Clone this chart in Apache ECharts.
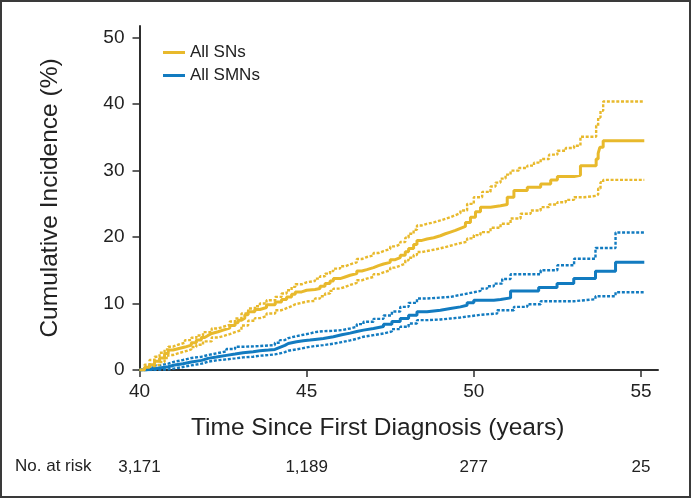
<!DOCTYPE html>
<html>
<head>
<meta charset="utf-8">
<script src="https://cdn.jsdelivr.net/npm/echarts@6/dist/echarts.min.js"></script>
<style>
html,body{margin:0;padding:0;background:#fff;}
#chart{width:692px;height:499px;}
</style>
</head>
<body>
<div id="chart"></div>
<script>
// ---- data (time in years, cumulative incidence in %) ----
const snEst = [[40,0],[40.15,0.4],[40.3,0.8],[40.45,1.3],[40.6,1.8],[40.75,2.5],[40.86,3.0],[41.0,3.2],[41.15,3.45],[41.36,3.75],[41.55,4.1],[41.7,4.5],[41.85,4.9],[41.95,5.2],[42.05,5.5],[42.16,5.75],[42.35,6.0],[42.5,6.3],[42.7,6.7],[42.86,7.1],[42.95,7.5],[43.05,7.8],[43.15,8.3],[43.25,8.75],[43.45,9.1],[43.6,9.4],[43.8,9.8],[44.06,10.25],[44.25,10.6],[44.4,11.0],[44.55,11.4],[44.66,11.75],[44.85,12.0],[45.0,12.1],[45.25,12.25],[45.4,12.6],[45.55,13.0],[45.7,13.4],[45.8,13.75],[46.0,14.0],[46.15,14.25],[46.3,14.5],[46.5,14.9],[46.65,15.1],[46.8,15.4],[47.0,15.7],[47.15,15.95],[47.3,16.2],[47.5,16.6],[47.65,16.9],[47.8,17.25],[47.95,17.8],[48.05,18.3],[48.2,18.9],[48.3,19.5],[48.45,19.7],[48.6,19.9],[48.8,20.2],[49.0,20.5],[49.15,20.75],[49.3,21.0],[49.45,21.3],[49.6,21.6],[49.75,22.2],[49.9,23.0],[50.05,23.8],[50.2,24.5],[50.5,24.7],[50.8,24.9],[51.0,26.0],[51.2,27.0],[51.6,27.5],[52.0,28.0],[52.3,28.6],[52.5,29.1],[53.0,29.3],[53.19,30.75],[53.66,31.75],[53.72,32.6],[53.77,33.5],[53.87,34.5],[55.1,34.5]];
const snHi = [[40,0],[40.15,0.8],[40.3,1.5],[40.45,2.0],[40.6,2.6],[40.75,3.1],[40.86,3.5],[41.0,3.8],[41.15,4.1],[41.36,4.5],[41.55,4.85],[41.7,5.2],[41.9,5.7],[42.16,6.25],[42.35,6.5],[42.5,6.8],[42.7,7.3],[42.86,7.75],[43.05,8.5],[43.25,9.25],[43.45,9.6],[43.6,10.0],[43.8,10.5],[44.06,11.0],[44.25,11.5],[44.4,12.0],[44.55,12.5],[44.66,12.9],[44.85,13.2],[45.0,13.4],[45.25,13.75],[45.4,14.1],[45.55,14.5],[45.7,14.9],[45.8,15.25],[46.0,15.6],[46.15,15.9],[46.3,16.2],[46.5,16.7],[46.65,17.0],[46.8,17.25],[47.0,17.6],[47.15,17.9],[47.3,18.2],[47.5,18.6],[47.65,18.9],[47.8,19.25],[47.95,19.9],[48.05,20.5],[48.2,21.1],[48.3,21.75],[48.45,22.0],[48.6,22.2],[48.8,22.5],[49.0,22.75],[49.15,23.0],[49.3,23.3],[49.45,23.6],[49.6,24.0],[49.8,25.0],[50.0,26.0],[50.25,26.8],[50.5,27.6],[50.65,28.2],[50.8,28.8],[50.95,29.4],[51.1,30.0],[51.35,30.4],[51.6,30.75],[51.8,31.2],[52.0,31.75],[52.25,32.4],[52.5,33.0],[52.75,33.4],[53.0,33.75],[53.19,35.1],[53.66,36.75],[53.72,38.0],[53.79,39.0],[53.87,40.4],[55.1,40.4]];
const snLo = [[40,0],[40.15,0.2],[40.3,0.5],[40.45,0.8],[40.6,1.2],[40.75,1.8],[40.86,2.25],[41.0,2.5],[41.15,2.8],[41.36,3.1],[41.55,3.45],[41.7,3.8],[41.9,4.3],[42.16,4.9],[42.35,5.1],[42.5,5.4],[42.7,5.7],[42.86,6.0],[43.05,6.7],[43.25,7.4],[43.45,7.8],[43.6,8.1],[43.8,8.5],[44.06,9.0],[44.25,9.3],[44.4,9.6],[44.55,9.9],[44.66,10.1],[44.85,10.3],[45.0,10.4],[45.25,10.75],[45.4,11.1],[45.55,11.5],[45.7,11.9],[45.8,12.25],[46.0,12.5],[46.15,12.8],[46.3,13.1],[46.5,13.5],[46.65,13.75],[46.8,14.0],[47.0,14.4],[47.15,14.7],[47.3,15.0],[47.5,15.4],[47.65,15.7],[47.8,16.0],[47.95,16.5],[48.05,16.9],[48.2,17.3],[48.3,17.75],[48.45,17.9],[48.6,18.1],[48.8,18.3],[49.0,18.5],[49.15,18.7],[49.3,18.9],[49.45,19.1],[49.6,19.3],[49.8,19.8],[50.0,20.3],[50.2,20.75],[50.5,21.4],[50.8,22.0],[51.1,22.8],[51.4,23.5],[51.7,24.0],[52.0,24.5],[52.25,24.9],[52.5,25.25],[52.75,25.6],[53.0,26.0],[53.3,26.2],[53.66,26.4],[53.72,27.3],[53.79,28.25],[53.87,28.6],[55.1,28.6]];
const smnEst = [[40,0],[40.2,0.15],[40.4,0.3],[40.6,0.5],[40.86,0.75],[41.05,0.95],[41.3,1.2],[41.55,1.45],[41.86,1.75],[42.05,1.95],[42.3,2.2],[42.6,2.4],[42.86,2.6],[43.1,2.75],[43.4,2.9],[43.6,3.0],[43.86,3.1],[44.05,3.4],[44.2,3.7],[44.35,4.0],[44.45,4.25],[44.7,4.4],[44.9,4.5],[45.1,4.6],[45.25,4.75],[45.5,5.0],[45.8,5.3],[46.05,5.55],[46.3,5.8],[46.5,6.0],[46.7,6.25],[47.0,6.55],[47.3,6.9],[47.55,7.3],[47.8,7.75],[48.05,8.25],[48.3,8.75],[48.6,9.0],[49.0,9.25],[49.3,9.5],[49.6,9.75],[49.8,10.1],[50.0,10.5],[50.6,10.6],[50.8,10.85],[51.1,11.9],[51.94,12.4],[52.49,13.0],[52.99,13.75],[53.64,14.85],[54.24,16.2],[55.1,16.2]];
const smnHi = [[40,0],[40.2,0.35],[40.4,0.7],[40.6,0.95],[40.86,1.25],[41.05,1.5],[41.3,1.8],[41.55,2.0],[41.86,2.25],[42.05,2.5],[42.3,2.8],[42.6,3.15],[42.86,3.5],[43.1,3.55],[43.4,3.6],[43.6,3.7],[43.86,3.75],[44.05,4.1],[44.2,4.5],[44.35,4.8],[44.45,5.1],[44.7,5.3],[44.9,5.5],[45.1,5.7],[45.25,5.85],[45.5,5.9],[45.8,6.0],[46.05,6.25],[46.3,6.5],[46.5,6.9],[46.7,7.25],[47.0,7.7],[47.3,8.2],[47.55,8.8],[47.8,9.5],[48.05,10.1],[48.3,10.75],[48.6,10.9],[49.0,11.0],[49.3,11.3],[49.6,11.6],[49.9,11.9],[50.2,12.25],[50.4,12.6],[50.6,13.0],[50.85,13.7],[51.1,14.4],[52.0,15.0],[52.5,15.75],[53.0,16.75],[53.64,18.35],[54.24,20.7],[55.1,20.7]];
const smnLo = [[40,0],[40.4,0.1],[40.86,0.25],[41.05,0.45],[41.3,0.7],[41.55,0.95],[41.86,1.25],[42.05,1.45],[42.3,1.6],[42.6,1.75],[42.86,1.9],[43.1,2.0],[43.4,2.15],[43.6,2.25],[43.86,2.35],[44.05,2.5],[44.2,2.7],[44.35,2.9],[44.45,3.1],[44.7,3.3],[44.9,3.5],[45.1,3.6],[45.25,3.75],[45.5,3.95],[45.8,4.2],[46.05,4.45],[46.3,4.7],[46.5,5.0],[46.7,5.25],[47.0,5.5],[47.3,5.8],[47.55,6.15],[47.8,6.5],[48.05,7.0],[48.3,7.5],[48.6,7.6],[49.0,7.75],[49.3,7.9],[49.6,8.1],[49.9,8.3],[50.2,8.5],[50.7,9.0],[51.2,9.5],[51.6,9.9],[52.0,10.35],[53.0,10.65],[53.64,11.1],[54.24,11.7],[55.1,11.7]];

const xTicks = [40, 45, 50, 55];
const yTicks = [0, 10, 20, 30, 40, 50];
const riskTimes = [40, 45, 50, 55];
const riskCounts = ['3,171', '1,189', '277', '25'];
const seriesNames = ['All SNs', 'All SMNs'];

const YEL = '#E8B92C';
const BLU = '#127BC0';
const FONT = '"Liberation Sans", Arial, Helvetica, sans-serif';
const AX = '#2e2e2e';

function mainLine(name, data, color) {
  return { name: name, type: 'line', step: 'end', data: data, showSymbol: false, symbol: 'none',
    lineStyle: { color: color, width: 3 }, itemStyle: { color: color }, z: 3, silent: true };
}
function ciLine(name, data, color) {
  return { name: name, type: 'line', step: 'end', data: data, showSymbol: false, symbol: 'none',
    lineStyle: { color: color, width: 2.4, type: [3, 1.7] }, itemStyle: { color: color }, z: 2, silent: true };
}

const chart = echarts.init(document.getElementById('chart'), null, { renderer: 'canvas' });
chart.setOption({
  animation: false,
  backgroundColor: '#fff',
  textStyle: { fontFamily: FONT },
  grid: { left: 139.5, top: 26, width: 518.5, height: 344, containLabel: false },
  legend: {
    data: seriesNames, orient: 'vertical', left: 163, top: 44, itemGap: 6, padding: 0,
    icon: 'rect', itemWidth: 22, itemHeight: 3,
    textStyle: { fontFamily: FONT, fontSize: 17, color: '#222' }
  },
  xAxis: [{
    type: 'value', min: 40, max: 55.51,
    axisLine: { lineStyle: { color: AX, width: 2 } },
    axisTick: { customValues: xTicks, length: 7, lineStyle: { color: AX, width: 1.5 } },
    axisLabel: { customValues: xTicks, fontSize: 19, color: '#222', margin: 12, fontFamily: FONT },
    splitLine: { show: false },
    name: 'Time Since First Diagnosis (years)', nameLocation: 'middle', nameGap: 46,
    nameTextStyle: { fontSize: 24.5, color: '#222', fontFamily: FONT, padding: [0, 42, 0, 0] }
  }, {
    type: 'value', min: 40, max: 55.51, position: 'bottom',
    axisLine: { show: false }, axisTick: { show: false }, splitLine: { show: false },
    axisLabel: {
      customValues: riskTimes, fontSize: 17, color: '#222', margin: 89, fontFamily: FONT,
      formatter: function (v) { const i = riskTimes.indexOf(v); return i >= 0 ? riskCounts[i] : ''; }
    }
  }],
  yAxis: {
    type: 'value', min: 0, max: 51.76,
    axisLine: { show: true, lineStyle: { color: AX, width: 2 } },
    axisTick: { show: true, customValues: yTicks, length: 7, lineStyle: { color: AX, width: 1.5 } },
    axisLabel: { customValues: yTicks, fontSize: 19, color: '#222', margin: 15, fontFamily: FONT },
    splitLine: { show: false },
    name: 'Cumulative Incidence (%)', nameLocation: 'middle', nameGap: 77, nameRotate: 90,
    nameTextStyle: { fontSize: 24.5, color: '#222', fontFamily: FONT }
  },
  graphic: [
    { type: 'text', left: 15, top: 458, style: { text: 'No. at risk', font: '17px ' + FONT, fill: '#222' } },
    { type: 'rect', shape: { x: 1, y: 1, width: 689, height: 496 }, style: { fill: 'none', stroke: '#3a3a3a', lineWidth: 2 }, silent: true }
  ],
  series: [
    ciLine('SMN upper', smnHi, BLU),
    ciLine('SMN lower', smnLo, BLU),
    mainLine(seriesNames[1], smnEst, BLU),
    ciLine('SN upper', snHi, YEL),
    ciLine('SN lower', snLo, YEL),
    mainLine(seriesNames[0], snEst, YEL)
  ]
});
</script>
</body>
</html>
